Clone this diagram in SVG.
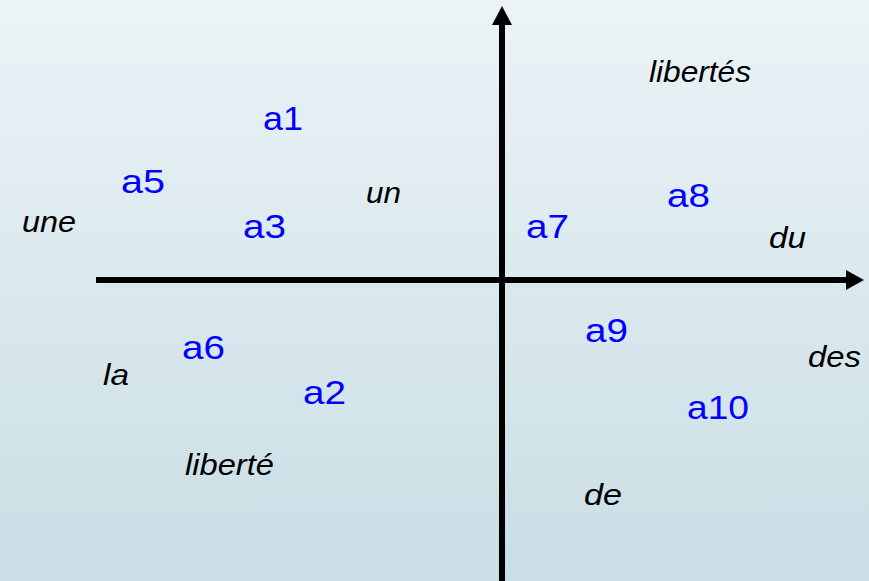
<svg xmlns="http://www.w3.org/2000/svg" width="869" height="581" viewBox="0 0 869 581">
<defs>
<linearGradient id="bg" x1="0" y1="0" x2="0" y2="1">
<stop offset="0" stop-color="#EBF3F6"/>
<stop offset="1" stop-color="#C9DEE5"/>
</linearGradient>
<style>
.lbl{font-family:"Liberation Sans",Arial,sans-serif;font-size:34px;fill:#0000FF}
.wrd{font-family:"Liberation Sans",Arial,sans-serif;font-size:30px;font-style:italic;fill:#000000}
.ax{stroke:#000;stroke-width:6;fill:none}
</style>
</defs>
<rect x="0" y="0" width="869" height="581" fill="url(#bg)"/>
<g id="axes">
<line class="ax" x1="96" y1="280" x2="848" y2="280"/>
<polygon points="846,270 864,280 846,290" fill="#000"/>
<line class="ax" x1="502" y1="581" x2="502" y2="23"/>
<polygon points="492,25 502,6 512,25" fill="#000"/>
</g>
<g id="n-a1"><text class="lbl" x="263" y="130" textLength="40" lengthAdjust="spacingAndGlyphs">a1</text></g>
<g id="n-a5"><text class="lbl" x="121" y="193" textLength="44" lengthAdjust="spacingAndGlyphs">a5</text></g>
<g id="n-a3"><text class="lbl" x="243" y="238" textLength="43" lengthAdjust="spacingAndGlyphs">a3</text></g>
<g id="n-a7"><text class="lbl" x="526" y="238" textLength="43" lengthAdjust="spacingAndGlyphs">a7</text></g>
<g id="n-a8"><text class="lbl" x="667" y="207" textLength="43" lengthAdjust="spacingAndGlyphs">a8</text></g>
<g id="n-a6"><text class="lbl" x="182" y="359" textLength="43" lengthAdjust="spacingAndGlyphs">a6</text></g>
<g id="n-a2"><text class="lbl" x="303" y="404" textLength="43" lengthAdjust="spacingAndGlyphs">a2</text></g>
<g id="n-a9"><text class="lbl" x="585" y="342" textLength="43" lengthAdjust="spacingAndGlyphs">a9</text></g>
<g id="n-a10"><text class="lbl" x="687" y="419" textLength="62" lengthAdjust="spacingAndGlyphs">a10</text></g>
<g id="w-libertes"><text class="wrd" x="649" y="82" textLength="102" lengthAdjust="spacingAndGlyphs">libertés</text></g>
<g id="w-un"><text class="wrd" x="366" y="203" textLength="35" lengthAdjust="spacingAndGlyphs">un</text></g>
<g id="w-une"><text class="wrd" x="22" y="232" textLength="54" lengthAdjust="spacingAndGlyphs">une</text></g>
<g id="w-du"><text class="wrd" x="769" y="248" textLength="37" lengthAdjust="spacingAndGlyphs">du</text></g>
<g id="w-des"><text class="wrd" x="808" y="367" textLength="53" lengthAdjust="spacingAndGlyphs">des</text></g>
<g id="w-la"><text class="wrd" x="103" y="385" textLength="26" lengthAdjust="spacingAndGlyphs">la</text></g>
<g id="w-liberte"><text class="wrd" x="185" y="475" textLength="89" lengthAdjust="spacingAndGlyphs">liberté</text></g>
<g id="w-de"><text class="wrd" x="584" y="505" textLength="38" lengthAdjust="spacingAndGlyphs">de</text></g>
</svg>
